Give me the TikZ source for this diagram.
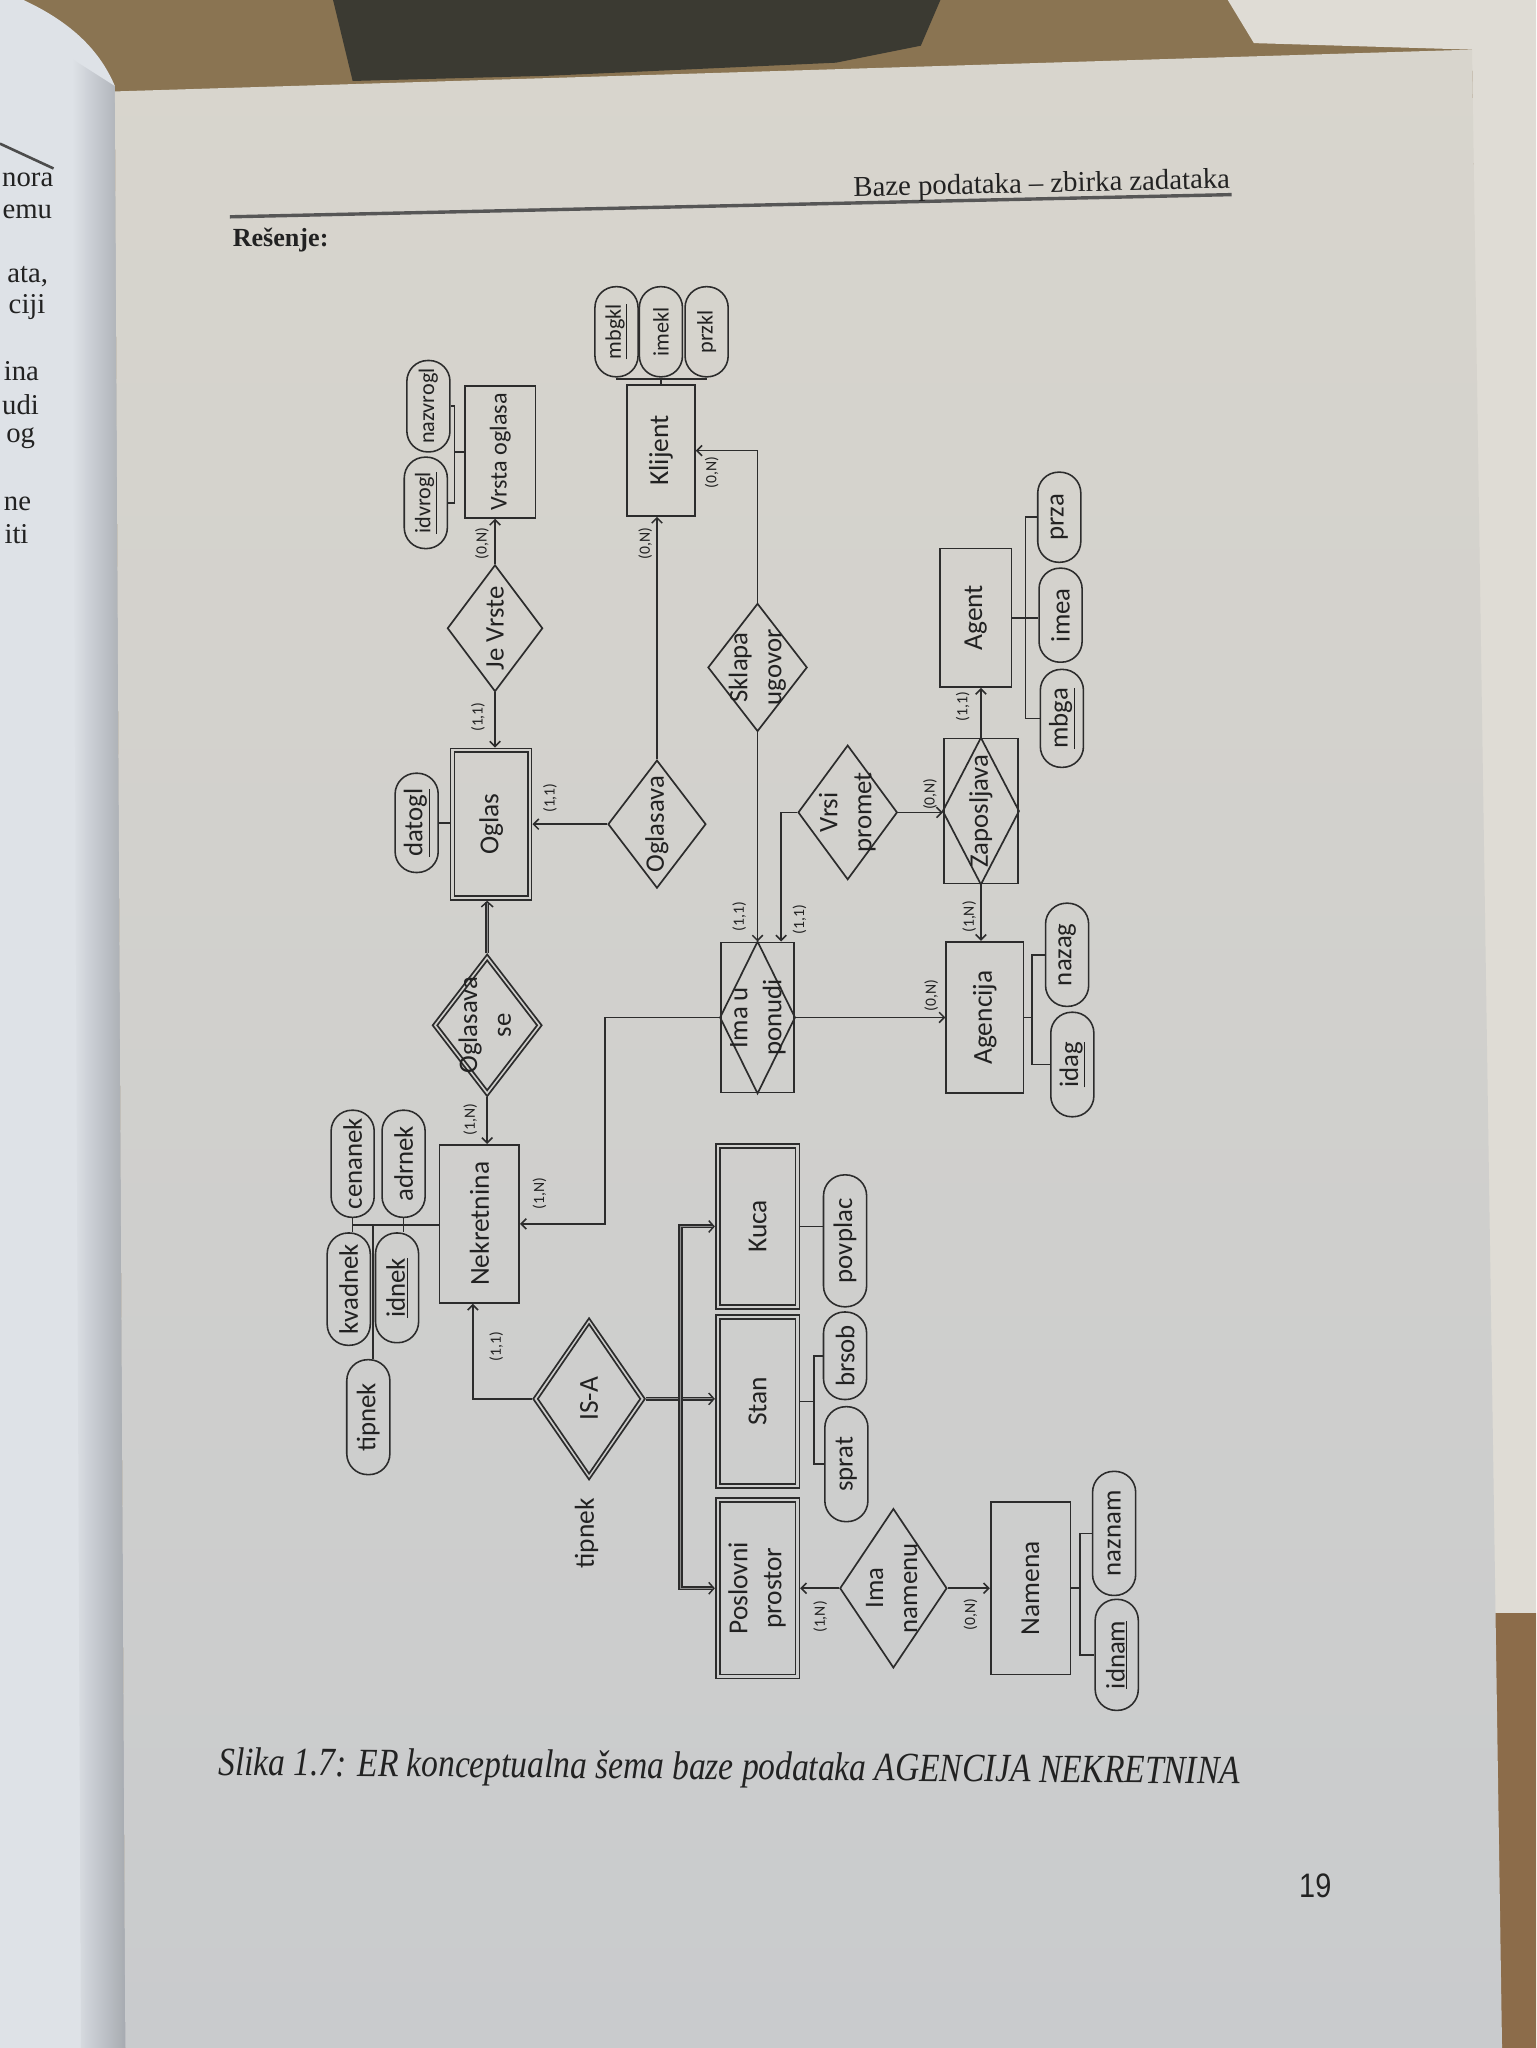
\documentclass[tikz,border=0pt]{standalone}
\usepackage{fontspec}
\usepackage{graphicx}
\setmainfont{Liberation Serif}
\newfontfamily\erfont{Carlito}
\newfontfamily\folio{Liberation Sans}
\usetikzlibrary{arrows.meta,shapes.geometric}

\definecolor{ink}{HTML}{2C2C2C}
\definecolor{typeInk}{HTML}{222222}
\definecolor{paperTop}{HTML}{D8D5CD}
\definecolor{paperBot}{HTML}{C9CBCD}
\definecolor{leftPaper}{HTML}{DEE2E7}
\definecolor{gutter}{HTML}{A7ABB1}
\definecolor{tableBrown}{HTML}{8A7452}
\definecolor{darkObj}{HTML}{3B3A32}
\definecolor{wall}{HTML}{DFDCD5}
\definecolor{woodLow}{HTML}{8C6C4A}
\definecolor{gapGray}{HTML}{8E8E8E}

% text set upright in the rotated diagram
\newcommand\rt[1]{\rotatebox{90}{#1}}
\newcommand\twolines[2]{\rotatebox{90}{\begin{tabular}{@{}c@{}}#1\\#2\end{tabular}}}

\tikzset{
  ent/.style={draw=ink, line width=1.3pt, rectangle, inner sep=0pt, text=typeInk,
              font={\erfont\fontsize{21}{26}\selectfont}},
  att/.style={draw=ink, line width=1.2pt, rectangle, rounded corners=16pt,
              minimum width=33pt, inner sep=0pt, text=typeInk,
              font={\erfont\fontsize{20.5}{24}\selectfont}},
  attsmall/.style={att, font={\erfont\fontsize{17}{20}\selectfont}},
  rel/.style={draw=ink, line width=1.3pt, diamond, inner sep=0pt},
  rtext/.style={inner sep=0pt, text=typeInk, font={\erfont\fontsize{20.5}{26}\selectfont}},
  card/.style={inner sep=0pt, text=typeInk, font={\erfont\fontsize{12}{14}\selectfont}},
  link/.style={draw=ink, line width=1.2pt},
  arr/.style={link, -{Straight Barb[length=4pt,width=8pt]}},
  dblarr/.style={draw=ink, line width=1.1pt, double=gapGray, double distance=0.9pt,
                 -{Straight Barb[length=4pt,width=9pt]}},
}

\begin{document}
\begin{tikzpicture}[x=1pt,y=-1pt]
\useasboundingbox (0,0) rectangle (1176,1568);

% ---------- desk, wall and the open book ----------
\fill[tableBrown] (0,0) rectangle (1176,1568);
\fill[darkObj] (255,0) -- (720,0) -- (705,35) -- (640,48) -- (420,58) -- (270,62) -- cycle;
\fill[wall] (940,0) -- (1176,0) -- (1176,1235) -- (1140,1235) -- (1127,38) -- (960,33) -- cycle;
\fill[woodLow] (1140,1235) -- (1176,1235) -- (1176,1568) -- (1150,1568) -- cycle;
\fill[leftPaper] (0,0) -- (18,0) .. controls (50,15) and (75,35) .. (88,66) -- (96,1568) -- (0,1568) -- cycle;
\shade[left color=leftPaper, right color=gutter] (55,45) -- (88,66) -- (96,1568) -- (62,1568) -- cycle;
\shade[top color=paperTop, bottom color=paperBot] (88,70) -- (1127,38) -- (1150,1568) -- (96,1568) -- cycle;

% ---------- facing page, near the gutter ----------
\draw[line width=2pt, ink!85] (0,110) -- (41,129);
\begin{scope}[every node/.style={anchor=base east, inner sep=0pt, text=typeInk, font=\fontsize{22}{26}\selectfont}]
  \node (lp1) at (41,143) {nora};
  \node (lp2) at (40,167) {emu};
  \node (lp3) at (37,216) {ata,};
  \node (lp4) at (35,240) {ciji};
  \node (lp5) at (30,291) {ina};
  \node (lp6) at (30,317) {udi};
  \node (lp7) at (27,339) {og};
  \node (lp8) at (24,391) {ne};
  \node (lp9) at (22,416) {iti};
\end{scope}

% ---------- running head ----------
\draw[line width=2.6pt, ink!80] (176,166) -- (943,149);
\node[anchor=base east, inner sep=0pt, rotate=1.3, text=typeInk, font=\fontsize{22}{26}\selectfont]
  (runhead) at (942,144) {Baze podataka – zbirka zadataka};
\node[anchor=base west, inner sep=0pt, text=typeInk, font=\bfseries\fontsize{20}{24}\selectfont]
  (resenje) at (178,189) {Rešenje:};

% ---------- entities ----------
\node[ent, minimum width=54pt, minimum height=101pt, font={\erfont\fontsize{18.5}{22}\selectfont}] (vrsta) at (383,346) {\rt{Vrsta oglasa}};
\node[ent, minimum width=62pt, minimum height=116pt] (oglas) at (376,631) {\rt{Oglas}};
\node[ent, minimum width=56pt, minimum height=110pt] (oglasIn) at (oglas) {};
\node[ent, minimum width=52pt, minimum height=100pt] (klijent) at (506,345) {\rt{Klijent}};
\node[ent, minimum width=55pt, minimum height=106pt] (agent) at (747,473) {\rt{Agent}};
\node[ent, minimum width=59pt, minimum height=116pt] (agencija) at (754,779) {\rt{Agencija}};
\node[ent, minimum width=61pt, minimum height=121pt] (nekretnina) at (367,937) {\rt{Nekretnina}};
\node[ent, minimum width=64pt, minimum height=126pt] (kuca) at (580,939) {\rt{Kuca}};
\node[ent, minimum width=58pt, minimum height=120pt] (kucaIn) at (kuca) {};
\node[ent, minimum width=64pt, minimum height=132pt] (stan) at (580,1073) {\rt{Stan}};
\node[ent, minimum width=58pt, minimum height=126pt] (stanIn) at (stan) {};
\node[ent, minimum width=64pt, minimum height=138pt] (posl) at (580,1216) {\twolines{Poslovni}{prostor}};
\node[ent, minimum width=58pt, minimum height=132pt] (poslIn) at (posl) {};
\node[ent, minimum width=61pt, minimum height=132pt] (namena) at (789,1216) {\rt{Namena}};

% ---------- associative entities ----------
\node[ent, minimum width=57pt, minimum height=111pt] (zapos) at (751,621) {};
\draw[link, line width=1.3pt] (zapos.north) -- (zapos.east) -- (zapos.south) -- (zapos.west) -- cycle;
\node[rtext] (zaposT) at (zapos) {\rt{Zaposljava}};
\node[ent, minimum width=56pt, minimum height=115pt] (imau) at (580,779) {};
\draw[link, line width=1.3pt] (imau.north) -- (imau.east) -- (imau.south) -- (imau.west) -- cycle;
\node[rtext] (imauT) at (imau) {\twolines{Ima u}{ponudi}};

% ---------- relationships ----------
\node[rel, minimum width=73pt, minimum height=97pt] (jevrste) at (379,481) {};
\node[rtext] (jevrsteT) at (jevrste) {\rt{Je Vrste}};
\node[rel, minimum width=75pt, minimum height=98pt] (oglasava) at (503,631) {};
\node[rtext] (oglasavaT) at (oglasava) {\rt{Oglasava}};
\node[rel, minimum width=76pt, minimum height=98pt] (sklapa) at (580,511) {};
\node[rtext] (sklapaT) at (sklapa) {\twolines{Sklapa}{ugovor}};
\node[rel, minimum width=76pt, minimum height=103pt] (vrsi) at (649,622) {};
\node[rtext] (vrsiT) at (vrsi) {\twolines{Vrsi}{promet}};
\node[rel, minimum width=84pt, minimum height=109pt] (oglse) at (373,785) {};
\node[rel, minimum width=77pt, minimum height=100pt] (oglseIn) at (oglse) {};
\node[rtext] (oglseT) at (oglse) {\twolines{Oglasava}{se}};
\node[rel, minimum width=86pt, minimum height=124pt] (isa) at (451,1071) {};
\node[rel, minimum width=79pt, minimum height=115pt] (isaIn) at (isa) {};
\node[rtext, font={\erfont\fontsize{21}{24}\selectfont}] (isaT) at (isa) {\rt{IS-A}};
\node[rel, minimum width=82pt, minimum height=122pt] (imanam) at (684,1216) {};
\node[rtext] (imanamT) at (imanam) {\twolines{Ima}{namenu}};
\node[rtext, font={\erfont\fontsize{21}{25}\selectfont}] (diskr) at (449,1174) {\rt{tipnek}};

% ---------- attributes ----------
\node[attsmall, minimum height=70pt] (idvrogl) at (326,385) {\rt{\underline{idvrogl}}};
\node[attsmall, minimum height=70pt] (nazvrogl) at (328,311) {\rt{nazvrogl}};
\node[att, minimum height=76pt] (datogl) at (319,630) {\rt{\underline{datogl}}};
\node[attsmall, minimum height=69pt] (mbgkl) at (472,254) {\rt{\underline{mbgkl}}};
\node[attsmall, minimum height=69pt] (imekl) at (506,254) {\rt{imekl}};
\node[attsmall, minimum height=69pt] (przkl) at (541,254) {\rt{przkl}};
\node[att, minimum height=69pt] (prza) at (811,396) {\rt{prza}};
\node[att, minimum height=72pt] (imea) at (812,471) {\rt{imea}};
\node[att, minimum height=75pt] (mbga) at (813,550) {\rt{\underline{mbga}}};
\node[att, minimum height=79pt] (nazag) at (817,731) {\rt{nazag}};
\node[att, minimum height=80pt] (idag) at (821,815) {\rt{\underline{idag}}};
\node[att, minimum height=82pt] (cenanek) at (270,891) {\rt{cenanek}};
\node[att, minimum height=86pt] (kvadnek) at (267,987) {\rt{kvadnek}};
\node[att, minimum height=82pt] (adrnek) at (309,891) {\rt{adrnek}};
\node[att, minimum height=84pt] (idnek) at (304,986) {\rt{\underline{idnek}}};
\node[att, minimum height=88pt] (tipnek) at (282,1085) {\rt{tipnek}};
\node[att, minimum height=101pt] (povplac) at (647,950) {\rt{povplac}};
\node[att, minimum height=67pt] (brsob) at (647,1038) {\rt{brsob}};
\node[att, minimum height=88pt] (sprat) at (648,1121) {\rt{sprat}};
\node[att, minimum height=95pt] (naznam) at (853,1174) {\rt{naznam}};
\node[att, minimum height=85pt] (idnam) at (855,1267) {\rt{\underline{idnam}}};

% ---------- attribute brackets ----------
\coordinate (vb) at (348,346);
\draw[link] (vrsta.west) -- (vb);
\draw[link] (nazvrogl.east) -| (vb) |- (idvrogl.east);
\draw[link] (datogl.east) -- (datogl.east -| oglas.west);
\coordinate (kb) at (506,290);
\draw[link] (mbgkl.south) |- (kb) -| (przkl.south);
\draw[link] (imekl.south) -- (imekl.south |- klijent.north);
\coordinate (ab) at (785,473);
\draw[link] (agent.east) -- (agent.east -| imea.west);
\draw[link] (prza.west) -| (ab) |- (mbga.west);
\coordinate (gb) at (790,779);
\draw[link] (agencija.east) -- (gb);
\draw[link] (nazag.west) -| (gb) |- (idag.west);
\coordinate (nb) at (270,938);
\coordinate (tv) at (285.5,938);
\draw[link] (nb) -- (nb -| nekretnina.west);
\draw[link] (cenanek.south) -- (cenanek.south |- kvadnek.north);
\draw[link] (adrnek.south) -- (adrnek.south |- idnek.north);
\draw[link] (tv) -- (tv |- tipnek.north);
\draw[link] (kuca.east) -- (kuca.east -| povplac.west);
\coordinate (sb) at (623,1073);
\draw[link] (stan.east) -- (sb);
\draw[link] (brsob.west) -| (sb) |- (sprat.west);
\coordinate (mb) at (827,1216);
\draw[link] (namena.east) -- (mb);
\draw[link] (naznam.west) -| (mb) |- (idnam.west);

% ---------- relationship connectors ----------
\draw[arr] (jevrste.north) -- (jevrste.north |- vrsta.south);
\draw[arr] (jevrste.south) -- (jevrste.south |- oglas.north);
\draw[arr] (oglasava.north) -- (oglasava.north |- klijent.south);
\draw[arr] (oglasava.west) -- (oglasava.west -| oglas.east);
\draw[arr] (sklapa.north) |- (klijent.east);
\draw[arr] (sklapa.south) -- (sklapa.south |- imau.north);
\coordinate (vk) at (598,622);
\draw[arr] (vrsi.west) -- (vk) -- (vk |- imau.north);
\draw[arr] (vrsi.east) -- (vrsi.east -| zapos.west);
\draw[arr] (zapos.north) -- (zapos.north |- agent.south);
\draw[arr] (zapos.south) -- (zapos.south |- agencija.north);
\draw[arr] (imau.east) -- (imau.east -| agencija.west);
\coordinate (nk) at (463,779);
\draw[arr] (imau.west) -- (nk) |- (nekretnina.east);
\draw[dblarr] (oglse.north) -- (oglse.north |- oglas.south);
\draw[arr] (oglse.south) -- (oglse.south |- nekretnina.north);
\coordinate (ik) at (362,1071);
\draw[arr] (isa.west) -- (ik) -- (ik |- nekretnina.south);
\coordinate (tk) at (521,1071);
\draw[dblarr] (isa.east) -- (isa.east -| stan.west);
\draw[dblarr] (tk) |- (kuca.west);
\draw[dblarr] (tk) |- (posl.west);
\draw[arr] (imanam.west) -- (imanam.west -| posl.east);
\draw[arr] (imanam.east) -- (imanam.east -| namena.west);

% ---------- cardinalities ----------
\node[card] (c1) at (369,416) {\rt{(0,N)}};
\node[card] (c2) at (366,549) {\rt{(1,1)}};
\node[card] (c3) at (494,416) {\rt{(0,N)}};
\node[card] (c4) at (545,362) {\rt{(0,N)}};
\node[card] (c5) at (421,611) {\rt{(1,1)}};
\node[card] (c6) at (360,857) {\rt{(1,N)}};
\node[card] (c7) at (413,914) {\rt{(1,N)}};
\node[card] (c8) at (380,1031) {\rt{(1,1)}};
\node[card] (c9) at (566,702) {\rt{(1,1)}};
\node[card] (c10) at (612,704) {\rt{(1,1)}};
\node[card] (c11) at (712,608) {\rt{(0,N)}};
\node[card] (c12) at (737,541) {\rt{(1,1)}};
\node[card] (c13) at (742,702) {\rt{(1,N)}};
\node[card] (c14) at (713,762) {\rt{(0,N)}};
\node[card] (c15) at (628,1238) {\rt{(1,N)}};
\node[card] (c16) at (743,1236) {\rt{(0,N)}};

% ---------- caption and folio ----------
\node[anchor=base west, inner sep=0pt, rotate=-0.5, text=typeInk] (caption) at (167,1359)
  {\scalebox{1}[1.2]{\resizebox{782pt}{!}{\itshape\fontsize{26}{30}\selectfont Slika 1.7: ER konceptualna šema baze podataka AGENCIJA NEKRETNINA}}};
\node[inner sep=0pt, text=typeInk, font=\folio\fontsize{26}{30}\selectfont] (folioNum) at (1007,1444) {\scalebox{0.85}[1]{19}};
\end{tikzpicture}
\end{document}
